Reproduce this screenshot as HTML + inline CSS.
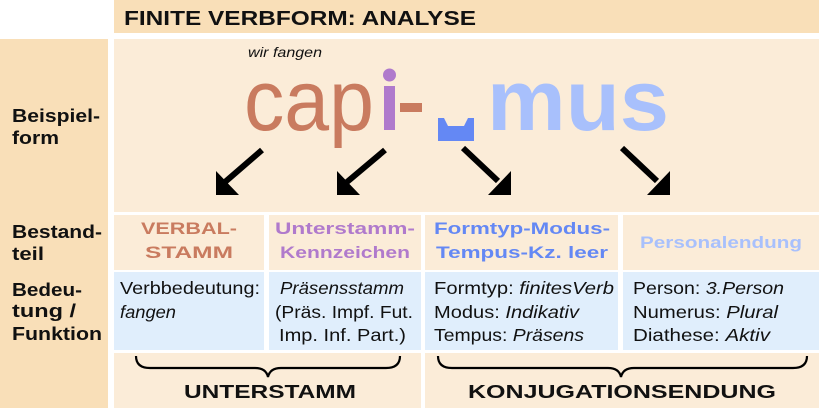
<!DOCTYPE html>
<html><head><meta charset="utf-8"><style>
html,body{margin:0;padding:0;background:#fff;width:819px;height:408px;overflow:hidden}
svg{display:block}
text{font-family:"Liberation Sans",sans-serif}
</style></head><body>
<svg width="819" height="408" viewBox="0 0 819 408" xmlns="http://www.w3.org/2000/svg">
<rect x="0" y="0" width="819" height="408" fill="#fff"/>
<rect x="114" y="0" width="705" height="33" fill="#f9dfb8"/>
<rect x="0" y="39" width="108" height="369" fill="#f9dfb8"/>
<rect x="114" y="39" width="705" height="173" fill="#fbecd8"/>
<rect x="114" y="215" width="150" height="55" fill="#fbecd8"/>
<rect x="269" y="215" width="152" height="55" fill="#fbecd8"/>
<rect x="425" y="215" width="193" height="55" fill="#fbecd8"/>
<rect x="623" y="215" width="196" height="55" fill="#fbecd8"/>
<rect x="114" y="272" width="150" height="78" fill="#e0eefc"/>
<rect x="269" y="272" width="152" height="78" fill="#e0eefc"/>
<rect x="425" y="272" width="193" height="78" fill="#e0eefc"/>
<rect x="623" y="272" width="196" height="78" fill="#e0eefc"/>
<rect x="114" y="353" width="307" height="55" fill="#fbecd8"/>
<rect x="425" y="353" width="394" height="55" fill="#fbecd8"/>

<text x="124" y="25" font-size="20" font-weight="bold" fill="#111" textLength="352" lengthAdjust="spacingAndGlyphs">FINITE VERBFORM: ANALYSE</text>

<g font-size="18" font-weight="bold" fill="#111">
<text x="12" y="122" textLength="88" lengthAdjust="spacingAndGlyphs">Beispiel-</text><text x="12" y="144" textLength="47" lengthAdjust="spacingAndGlyphs">form</text>
<text x="12" y="238" textLength="90" lengthAdjust="spacingAndGlyphs">Bestand-</text><text x="12" y="260" textLength="32" lengthAdjust="spacingAndGlyphs">teil</text>
<text x="12" y="296" textLength="70" lengthAdjust="spacingAndGlyphs">Bedeu-</text><text x="12" y="317" textLength="64" lengthAdjust="spacingAndGlyphs">tung /</text><text x="12" y="340" textLength="90" lengthAdjust="spacingAndGlyphs">Funktion</text>
</g>

<text x="248" y="57" font-size="14" font-style="italic" fill="#111" textLength="74" lengthAdjust="spacingAndGlyphs">wir fangen</text>
<text x="244" y="130" font-size="86" fill="#c97b5f" textLength="130" lengthAdjust="spacingAndGlyphs">cap</text>
<rect x="384" y="86" width="11" height="44" fill="#b07acc"/>
<circle cx="389.5" cy="75" r="6.5" fill="#b07acc"/>
<rect x="400" y="103" width="22" height="9" fill="#c97b5f"/>
<path d="M438 118 L444 118 L448 126 L464 126 L468 118 L474 118 L474 141 L438 141 Z" fill="#6488f4"/>
<text x="487" y="130" font-size="86" font-weight="bold" fill="#a8c0fc" textLength="182" lengthAdjust="spacingAndGlyphs">mus</text>

<g stroke="#000" stroke-width="6" fill="#000">
<line x1="262" y1="150" x2="225" y2="182"/>
<line x1="385" y1="150" x2="347" y2="182"/>
<line x1="463" y1="148" x2="498" y2="181"/>
<line x1="622" y1="148" x2="657" y2="181"/>
</g>
<g fill="#000">
<polygon points="216,171 216,195 239,195"/>
<polygon points="337,171 337,195 360,195"/>
<polygon points="511,171 511,195 488,195"/>
<polygon points="670,171 670,195 647,195"/>
</g>

<g font-size="17" font-weight="bold" text-anchor="middle">
<text x="189" y="234" fill="#c97b5f" textLength="96" lengthAdjust="spacingAndGlyphs">VERBAL-</text>
<text x="189" y="258" fill="#c97b5f" textLength="88" lengthAdjust="spacingAndGlyphs">STAMM</text>
<text x="345" y="234" fill="#b07acc" textLength="140" lengthAdjust="spacingAndGlyphs">Unterstamm-</text>
<text x="345" y="258" fill="#b07acc" textLength="130" lengthAdjust="spacingAndGlyphs">Kennzeichen</text>
<text x="522" y="234" fill="#6488f4" textLength="176" lengthAdjust="spacingAndGlyphs">Formtyp-Modus-</text>
<text x="522" y="258" fill="#6488f4" textLength="172" lengthAdjust="spacingAndGlyphs">Tempus-Kz. leer</text>
<text x="721" y="248" fill="#a8c0fc" textLength="162" lengthAdjust="spacingAndGlyphs">Personalendung</text>
</g>

<g font-size="17.5" fill="#111">
<text x="120" y="294" textLength="140" lengthAdjust="spacingAndGlyphs">Verbbedeutung:</text>
<text x="120" y="318" font-style="italic" textLength="56" lengthAdjust="spacingAndGlyphs">fangen</text>
<text x="280" y="294" font-style="italic" textLength="124" lengthAdjust="spacingAndGlyphs">Präsensstamm</text>
<text x="275" y="318" textLength="138" lengthAdjust="spacingAndGlyphs">(Präs. Impf. Fut.</text>
<text x="279" y="341" textLength="127" lengthAdjust="spacingAndGlyphs">Imp. Inf. Part.)</text>
<text x="434" y="294" textLength="180" lengthAdjust="spacingAndGlyphs">Formtyp: <tspan font-style="italic">finitesVerb</tspan></text>
<text x="434" y="318" textLength="145" lengthAdjust="spacingAndGlyphs">Modus: <tspan font-style="italic">Indikativ</tspan></text>
<text x="434" y="341" textLength="150" lengthAdjust="spacingAndGlyphs">Tempus: <tspan font-style="italic">Präsens</tspan></text>
<text x="633" y="294" textLength="151" lengthAdjust="spacingAndGlyphs">Person: <tspan font-style="italic">3.Person</tspan></text>
<text x="633" y="318" textLength="145" lengthAdjust="spacingAndGlyphs">Numerus: <tspan font-style="italic">Plural</tspan></text>
<text x="633" y="341" textLength="137" lengthAdjust="spacingAndGlyphs">Diathese: <tspan font-style="italic">Aktiv</tspan></text>
</g>

<g fill="none" stroke="#000" stroke-width="2.2">
<path d="M136 356 Q136 368 150 368 L255 368 Q266 368 268 377 Q270 368 281 368 L386 368 Q400 368 400 356"/>
<path d="M438 356 Q438 368 452 368 L608 368 Q619 368 621 377 Q623 368 634 368 L793 368 Q807 368 807 356"/>
</g>
<g font-size="18" font-weight="bold" fill="#111" text-anchor="middle">
<text x="270" y="398" textLength="172" lengthAdjust="spacingAndGlyphs">UNTERSTAMM</text>
<text x="622" y="398" textLength="308" lengthAdjust="spacingAndGlyphs">KONJUGATIONSENDUNG</text>
</g>
</svg>
</body></html>
